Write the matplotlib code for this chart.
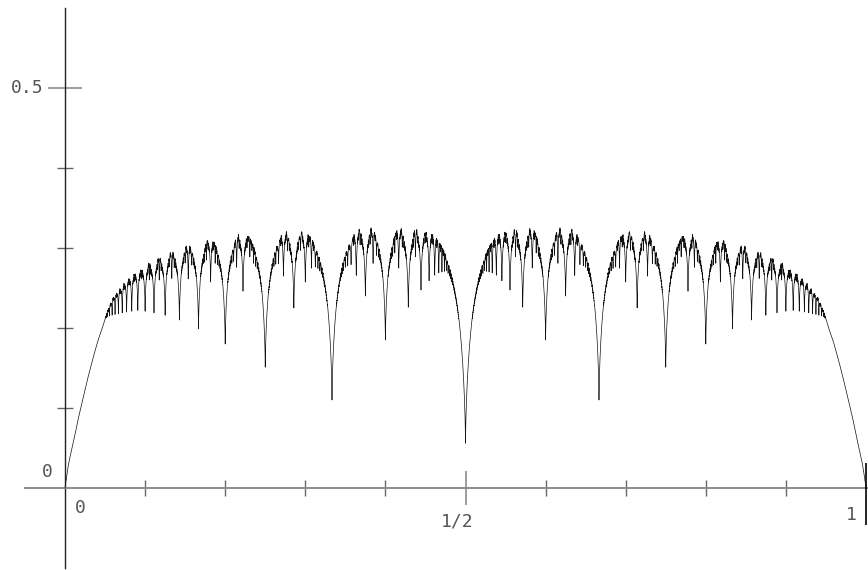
import numpy as np
import matplotlib
matplotlib.use("Agg")
import matplotlib.pyplot as plt
from math import gcd

# ---- data ----
# upper envelope of the curve (left half; the curve is symmetric about 1/2)
env_x = [0.0, 0.0028, 0.005, 0.0112, 0.016, 0.0225, 0.029, 0.035, 0.041, 0.047,
         0.052, 0.06, 0.069, 0.077, 0.088, 0.1, 0.119, 0.135, 0.156, 0.19,
         0.218, 0.25, 0.3, 0.35, 0.4, 0.5]
env_y = [0.0, 0.02, 0.033, 0.06, 0.083, 0.11, 0.136, 0.158, 0.178, 0.194,
         0.21, 0.231, 0.245, 0.258, 0.268, 0.275, 0.287, 0.295, 0.304, 0.311,
         0.316, 0.319, 0.322, 0.325, 0.326, 0.327]

# major dips: numerator, denominator, bottom value (left half)
dip_p = [1, 1, 1, 1, 2, 1, 1, 2, 3, 1, 3, 1, 2, 4, 1, 3, 1, 2, 3, 4, 5,
         5, 2, 4, 5, 6, 7, 7, 7, 8, 9, 2, 3, 3, 3, 3, 4, 2, 2,
         1, 1, 1, 1, 1, 1, 1, 1, 1]
dip_q = [2, 3, 4, 5, 5, 6, 7, 7, 7, 8, 8, 9, 9, 9, 10, 10, 11, 11, 11, 11, 11,
         12, 13, 13, 13, 13, 15, 16, 17, 17, 19, 15, 16, 17, 14, 13, 17, 17, 19,
         12, 13, 14, 15, 16, 17, 18, 19, 20]
dip_y = [0.056, 0.110, 0.151, 0.180, 0.185, 0.199, 0.210, 0.225, 0.226, 0.216,
         0.240, 0.219, 0.246, 0.2475, 0.221, 0.2575, 0.222, 0.2575, 0.265, 0.266,
         0.259, 0.275, 0.2615, 0.275, 0.281, 0.266, 0.269, 0.289, 0.294, 0.27,
         0.271, 0.262, 0.281, 0.285, 0.276, 0.289, 0.281, 0.26, 0.26,
         0.221, 0.220, 0.219, 0.218, 0.217, 0.216, 0.215, 0.214, 0.213]

# fine dips: depth below the local curve by denominator (q = 12 .. 60)
fuzz_q = list(range(12, 61))
fuzz_drop = [0.040, 0.036, 0.033, 0.030, 0.027, 0.025, 0.023, 0.021, 0.019,
             0.018, 0.017, 0.016, 0.015, 0.014, 0.013, 0.012, 0.012, 0.011,
             0.011, 0.010, 0.010, 0.009, 0.009, 0.008, 0.008, 0.008, 0.007,
             0.007, 0.007, 0.0065, 0.0065, 0.006, 0.006, 0.006, 0.0055,
             0.0055, 0.0055, 0.005, 0.005, 0.005, 0.005, 0.0045, 0.0045,
             0.0045, 0.0045, 0.004, 0.004, 0.004, 0.004]

x_ticks_minor = [0.1, 0.2, 0.3, 0.4, 0.6, 0.7, 0.8, 0.9]
y_ticks_minor = [0.1, 0.2, 0.3, 0.4]

# ---- build curve ----
ex = np.array(env_x + [1 - v for v in env_x[::-1]])
ey = np.array(env_y + env_y[::-1])
order = np.argsort(ex)
ex, ey = ex[order], ey[order]

LIFT = 0.02
def top(x):
    e = np.interp(x, ex, ey)
    return e + LIFT * (e / 0.327) ** 2

major = {}
for p, q, b in zip(dip_p, dip_q, dip_y):
    major[(p, q)] = b
    major[(q - p, q)] = b
fuzz = {}
for q, d in zip(fuzz_q, fuzz_drop):
    for p in range(2, q - 1):
        if gcd(p, q) == 1 and (p, q) not in major and 0.05 < p / q < 0.95:
            fuzz[(p, q)] = d

mx = np.array([p / q for (p, q) in major])
mb = np.array(list(major.values()))
fx = np.array([p / q for (p, q) in fuzz])
fd = np.array(list(fuzz.values()))

allx = np.concatenate([mx, fx])
x = np.linspace(0, 1, 50001)
x = np.unique(np.concatenate([x, allx, allx - 2e-6, allx + 2e-6]))
x = x[(x >= 0) & (x <= 1)]
T = top(x)
BETA, W0 = 0.7, 0.011

cut = np.zeros_like(x)
for x0, b in zip(mx, mb):
    D = float(top(x0)) - b
    if D <= 0:
        continue
    w = W0 * (D / 0.271) ** 1.3
    lo, hi = np.searchsorted(x, [x0 - 12 * w, x0 + 12 * w])
    d = np.abs(x[lo:hi] - x0)
    cut[lo:hi] = np.maximum(cut[lo:hi], D * np.exp(-(d / w) ** BETA))
y = T - cut

# fine dips hang below the local surface
fcut = np.zeros_like(x)
for x0, D in zip(fx, fd):
    w = W0 * (D / 0.271) ** 1.3
    lo, hi = np.searchsorted(x, [x0 - 12 * w, x0 + 12 * w])
    d = np.abs(x[lo:hi] - x0)
    fcut[lo:hi] = np.maximum(fcut[lo:hi], D * np.exp(-(d / w) ** BETA))
y = y - fcut * np.clip((y - 0.15) / 0.15, 0, 1)

# ---- figure ----
W, H = 868, 570
fig = plt.figure(figsize=(W / 100, H / 100), dpi=100)
ax = fig.add_axes([0, 0, 1, 1])
px = 801.0
py = 800.0
ax.set_xlim(-65 / px, (W - 65) / px)
ax.set_ylim(-(H - 488) / py, 488 / py)

ax.plot(x, y, color='#111111', lw=0.5, zorder=3)

for s in ['top', 'right']:
    ax.spines[s].set_visible(False)
ax.spines['left'].set_position(('data', 0))
ax.spines['bottom'].set_position(('data', 0))
ax.spines['left'].set_bounds(-(568 - 488) / py, (488 - 8) / py)
ax.spines['bottom'].set_bounds(-40 / px, (W - 65) / px)
ax.spines['left'].set_color('#222222')
ax.spines['left'].set_linewidth(1.0)
ax.spines['bottom'].set_color('#8c8c8c')
ax.spines['bottom'].set_linewidth(1.4)

ax.set_xticks([0.5])
ax.set_xticks(x_ticks_minor, minor=True)
ax.set_yticks([0.5])
ax.set_yticks(y_ticks_minor, minor=True)
ax.tick_params(axis='x', which='major', direction='inout', length=24, width=1.2,
               color='#8c8c8c', labelbottom=False)
ax.tick_params(axis='x', which='minor', direction='inout', length=12, width=1.0,
               color='#666666', labelbottom=False)
ax.tick_params(axis='y', which='major', direction='inout', length=24, width=1.2,
               color='#8c8c8c', labelleft=False)
ax.tick_params(axis='y', which='minor', direction='inout', length=12, width=1.0,
               color='#666666', labelleft=False)
ax.vlines(1.0, -(525 - 488) / py, (488 - 463) / py, color='black', lw=1.2, zorder=4)

tk = dict(family='DejaVu Sans Mono', fontsize=13, color='#555555')
ax.text(-22 / px, 0.5, '0.5', ha='right', va='center', **tk)
ax.text(-18 / px, 16 / py, '0', ha='center', va='center', **tk)
ax.text(15 / px, -20 / py, '0', ha='center', va='center', **tk)
ax.text(0.49, -34 / py, '1/2', ha='center', va='center', **tk)
ax.text(0.982, -27 / py, '1', ha='center', va='center', **tk)

fig.savefig('out.png', dpi=100)
